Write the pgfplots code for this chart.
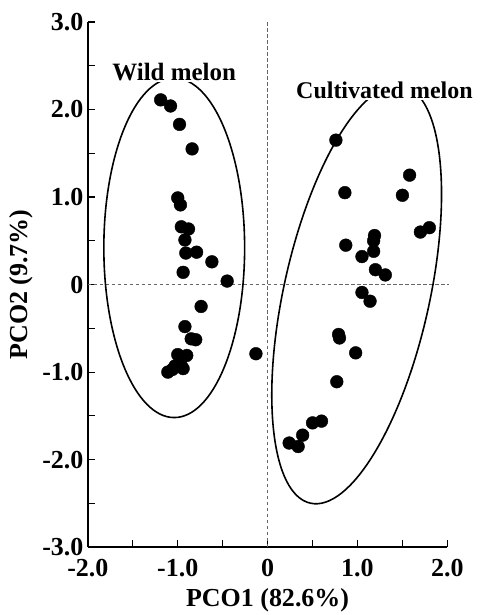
\documentclass[border=0pt]{standalone}
\usepackage{pgfplots}
\pgfplotsset{compat=1.18}
\usepackage{fontspec}
\setmainfont{Liberation Serif}
\begin{document}
\begin{tikzpicture}
\begin{axis}[
  scale only axis,
  width=360bp, height=526bp,
  xmin=-2, xmax=2, ymin=-3, ymax=3,
  axis lines=left,
  axis line style={-, line width=1.4bp},
  clip=false,
  xtick={-2,-1,0,1,2},
  xticklabels={-2.0,-1.0,0,1.0,2.0},
  ytick={-3,-2,-1,0,1,2,3},
  yticklabels={-3.0,-2.0,-1.0,0,1.0,2.0,3.0},
  minor xtick={-1.5,-0.5,0.5,1.5},
  minor ytick={-2.5,-1.5,-0.5,0.5,1.5,2.5},
  tick align=inside,
  major tick length=7bp,
  minor tick length=7bp,
  tick style={line width=1.2bp, black},
  ticklabel style={font=\bfseries\fontsize{26bp}{26bp}\selectfont},
  xticklabel style={yshift=-9bp},
  yticklabel style={xshift=-1bp},
  xlabel={\bfseries PCO1 (82.6\%)},
  ylabel={\bfseries PCO2 (9.7\%)},
  label style={font=\bfseries\fontsize{26bp}{26bp}\selectfont},
  xlabel style={yshift=-4bp},
  ylabel style={yshift=2bp},
]
\coordinate (bl) at (rel axis cs:0,0);
\coordinate (tr) at (rel axis cs:1,1);
% zero lines
\draw[gray!80!black, dash pattern=on 3.5bp off 2.5bp, line width=1bp] (axis cs:0,-3) -- (axis cs:0,3);
\draw[gray!80!black, dash pattern=on 3.5bp off 2.5bp, line width=1bp] (axis cs:-2,0) -- (axis cs:2.02,0);
% ellipses
\draw[line width=1.6bp] (axis cs:-1.039,0.42) ellipse [x radius=70.5bp, y radius=170bp];
\draw[line width=1.6bp, rotate around={77.5:(axis cs:0.991,-0.114)}] (axis cs:0.991,-0.114) ellipse [x radius=214bp, y radius=73bp];
% wild melon
\addplot[only marks, mark=*, mark size=6.4bp, black] coordinates {
(-1.19,2.11) (-1.08,2.04) (-0.98,1.83) (-0.84,1.55) (-1.00,0.99) (-0.97,0.91)
(-0.96,0.66) (-0.88,0.635) (-0.92,0.51) (-0.91,0.36) (-0.79,0.37) (-0.62,0.26)
(-0.94,0.14) (-0.45,0.04) (-0.74,-0.25) (-0.92,-0.48) (-0.85,-0.62) (-0.80,-0.63)
(-1.00,-0.80) (-0.90,-0.81) (-0.96,-0.93) (-1.03,-0.93) (-1.11,-1.00) (-0.94,-0.96)
(-1.06,-0.97) (-0.13,-0.79)
};
% cultivated melon
\addplot[only marks, mark=*, mark size=6.4bp, black] coordinates {
(0.76,1.65) (1.58,1.25) (1.50,1.02) (0.86,1.05) (1.80,0.65) (1.70,0.60)
(1.19,0.56) (1.18,0.50) (0.87,0.45) (1.18,0.38) (1.05,0.32) (1.20,0.17)
(1.31,0.11) (1.05,-0.09) (1.14,-0.19) (0.79,-0.57) (0.80,-0.61) (0.98,-0.78)
(0.77,-1.11) (0.60,-1.56) (0.50,-1.58) (0.39,-1.72) (0.24,-1.81) (0.34,-1.85)
};
\node[fill=white, inner sep=1bp, font=\bfseries\fontsize{25bp}{25bp}\selectfont] at (axis cs:-1.04,2.43) {Wild melon};
\node[fill=white, inner sep=1bp, font=\bfseries\fontsize{24bp}{24bp}\selectfont] at (axis cs:1.30,2.22) {Cultivated melon};
\end{axis}
\path ([xshift=-88bp,yshift=-67bp]bl) rectangle ([xshift=35bp,yshift=22bp]tr);
\end{tikzpicture}
\end{document}
